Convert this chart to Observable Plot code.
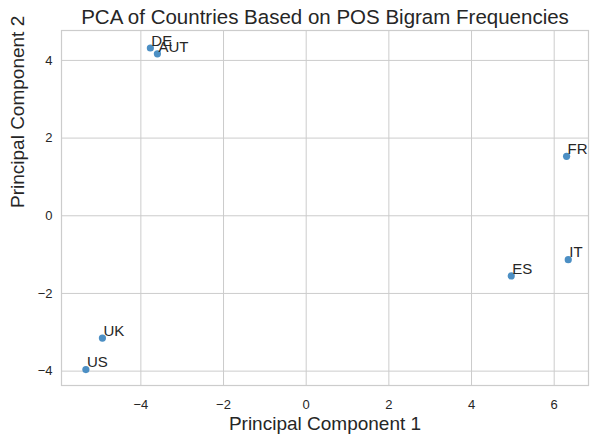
<!DOCTYPE html>
<html>
<head>
<meta charset="utf-8">
<script src="https://cdn.jsdelivr.net/npm/d3@7"></script>
<script src="https://cdn.jsdelivr.net/npm/@observablehq/plot@0.6"></script>
<style>
  html, body { margin: 0; padding: 0; background: #fff; }
  #chart svg { display: block; font-family: "Liberation Sans", Arial, sans-serif; }
</style>
</head>
<body>
<div id="chart"></div>
<script>
const countries = ["DE", "AUT", "FR", "IT", "ES", "UK", "US"];
const pc1 = [-3.77, -3.60, 6.30, 6.34, 4.96, -4.93, -5.33];
const pc2 = [4.32, 4.17, 1.53, -1.13, -1.55, -3.15, -3.96];
const xTicks = [-4, -2, 0, 2, 4, 6];
const yTicks = [-4, -2, 0, 2, 4];
const titleText = "PCA of Countries Based on POS Bigram Frequencies";
const xLabel = "Principal Component 1";
const yLabel = "Principal Component 2";

const data = countries.map((c, i) => ({country: c, x: pc1[i], y: pc2[i]}));

const fmt = d => (d < 0 ? "\u2212" : "") + Math.abs(d);

const chart = Plot.plot({
  width: 590,
  height: 437,
  marginLeft: 61,
  marginRight: 2,
  marginTop: 30,
  marginBottom: 52,
  style: {fontFamily: "'Liberation Sans', Arial, sans-serif", background: "#fff"},
  x: {domain: [-5.92, 6.83], label: null},
  y: {domain: [-4.37, 4.77], label: null},
  marks: [
    Plot.gridX(xTicks, {stroke: "#cccccc", strokeOpacity: 1, strokeWidth: 1}),
    Plot.gridY(yTicks, {stroke: "#cccccc", strokeOpacity: 1, strokeWidth: 1}),
    Plot.frame({stroke: "#cccccc", strokeWidth: 1.2}),
    Plot.axisX(xTicks, {tickSize: 0, tickPadding: 14, tickFormat: fmt, fontSize: 13, fill: "#262626"}),
    Plot.axisY(yTicks, {tickSize: 0, tickPadding: 9, tickFormat: fmt, fontSize: 13, fill: "#262626"}),
    Plot.dot(data, {x: "x", y: "y", r: 3.6, fill: "#4c8fc4", stroke: "none"}),
    Plot.text(data, {x: "x", y: "y", text: "country", textAnchor: "start", lineAnchor: "middle", dx: 1, dy: -7, fontSize: 15, fill: "#262626"}),
    Plot.text([titleText], {frameAnchor: "top", dy: -13, lineAnchor: "middle", fontSize: 20.5, fill: "#262626"}),
    Plot.text([xLabel], {frameAnchor: "bottom", dy: 38, lineAnchor: "middle", fontSize: 19, fill: "#262626"}),
    Plot.text([yLabel], {frameAnchor: "left", dx: -44, rotate: -90, lineAnchor: "middle", fontSize: 19, fill: "#262626"})
  ]
});
document.getElementById("chart").appendChild(chart);
</script>
</body>
</html>
